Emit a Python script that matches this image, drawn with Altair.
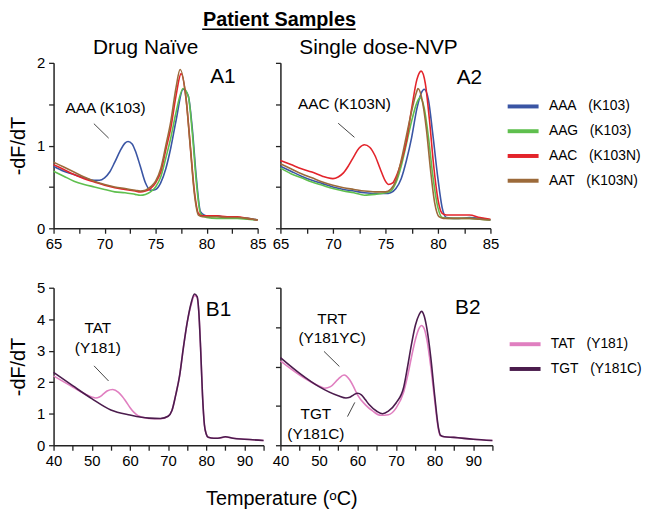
import altair as alt
import pandas as pd

FONT = "Liberation Sans"
SP = "\u00a0\u00a0\u00a0"

# ---------------- data: panel A1 (Drug Naive) ----------------
a_names = ["AAA" + SP + "(K103)", "AAG" + SP + "(K103)", "AAC" + SP + "(K103N)", "AAT" + SP + "(K103N)"]
a_colors = ["#3a55a4", "#5fbf4e", "#e3242b", "#9c6a3a"]

a1_aaa_t = [65, 66, 67, 68, 69, 69.5, 70, 70.5, 71, 71.5, 72, 72.3, 72.7, 73, 73.5, 74, 74.5, 75, 75.5, 76, 76.5, 77, 77.7, 78.2, 78.6, 79, 79.4, 80, 81, 82, 83, 84, 85]
a1_aaa_v = [0.75, 0.69, 0.65, 0.61, 0.58, 0.58, 0.61, 0.68, 0.8, 0.93, 1.03, 1.05, 1.02, 0.94, 0.75, 0.55, 0.46, 0.47, 0.55, 0.72, 0.98, 1.3, 1.68, 1.6, 1.2, 0.6, 0.2, 0.15, 0.15, 0.13, 0.13, 0.12, 0.10]
a1_aag_t = [65, 66, 67, 68, 69, 70, 71, 72, 73, 73.5, 74, 74.5, 75, 75.5, 76, 76.5, 77, 77.7, 78.2, 78.6, 79, 79.4, 80, 81, 82, 83, 84, 85]
a1_aag_v = [0.69, 0.63, 0.57, 0.53, 0.5, 0.47, 0.44, 0.43, 0.41, 0.4, 0.41, 0.44, 0.5, 0.62, 0.85, 1.1, 1.4, 1.69, 1.6, 1.15, 0.55, 0.18, 0.13, 0.12, 0.12, 0.12, 0.11, 0.10]
a1_aac_t = [65, 66, 67, 68, 69, 70, 71, 72, 73, 73.5, 74, 74.5, 75, 75.5, 76, 76.5, 77, 77.5, 78, 78.4, 78.8, 79.2, 79.6, 80, 81, 82, 83, 84, 85]
a1_aac_v = [0.77, 0.71, 0.65, 0.6, 0.56, 0.52, 0.49, 0.47, 0.45, 0.44, 0.45, 0.48, 0.55, 0.68, 0.95, 1.22, 1.6, 1.87, 1.55, 1.0, 0.45, 0.18, 0.15, 0.15, 0.15, 0.14, 0.14, 0.12, 0.10]
a1_aat_t = [65, 66, 67, 68, 69, 70, 71, 72, 73, 73.5, 74, 74.5, 75, 75.5, 76, 76.5, 77, 77.4, 78, 78.4, 78.8, 79.2, 79.6, 80, 81, 82, 83, 84, 85]
a1_aat_v = [0.80, 0.74, 0.68, 0.62, 0.57, 0.53, 0.5, 0.48, 0.46, 0.45, 0.46, 0.5, 0.57, 0.72, 1.0, 1.3, 1.7, 1.92, 1.55, 0.98, 0.42, 0.16, 0.14, 0.14, 0.14, 0.13, 0.13, 0.12, 0.10]

# ---------------- data: panel A2 (Single dose-NVP) ----------------
a2_aaa_t = [65, 66, 67, 68, 69, 70, 71, 72, 73, 74, 75, 75.5, 76, 76.5, 77, 77.5, 78, 78.4, 78.7, 79.1, 79.5, 80, 80.4, 80.8, 81.5, 82, 83, 84, 85]
a2_aaa_v = [0.75, 0.69, 0.63, 0.58, 0.54, 0.5, 0.47, 0.45, 0.43, 0.42, 0.42, 0.43, 0.48, 0.6, 0.82, 1.1, 1.45, 1.63, 1.68, 1.55, 1.15, 0.6, 0.25, 0.13, 0.12, 0.12, 0.13, 0.12, 0.10]
a2_aag_t = [65, 66, 67, 68, 69, 70, 71, 72, 73, 74, 75, 75.5, 76, 76.5, 77, 77.5, 78, 78.3, 78.7, 79.1, 79.5, 80, 80.4, 81, 82, 83, 84, 85]
a2_aag_v = [0.73, 0.66, 0.61, 0.56, 0.52, 0.48, 0.45, 0.43, 0.4, 0.41, 0.43, 0.45, 0.55, 0.75, 1.02, 1.3, 1.52, 1.58, 1.45, 1.1, 0.65, 0.25, 0.13, 0.12, 0.12, 0.12, 0.11, 0.10]
a2_aac_t = [65, 66, 67, 68, 69, 69.5, 70, 70.5, 71, 71.5, 72, 72.5, 73, 73.5, 74, 74.5, 75, 75.3, 75.7, 76, 76.5, 77, 77.5, 78, 78.4, 78.8, 79.2, 79.6, 80, 80.4, 80.8, 81, 82, 83, 84, 85]
a2_aac_v = [0.82, 0.77, 0.72, 0.68, 0.63, 0.61, 0.6, 0.62, 0.67, 0.76, 0.87, 0.97, 1.01, 0.98, 0.88, 0.72, 0.57, 0.53, 0.55, 0.62, 0.8, 1.05, 1.45, 1.8, 1.9, 1.75, 1.3, 0.75, 0.35, 0.18, 0.16, 0.16, 0.16, 0.16, 0.13, 0.11]
a2_aat_t = [65, 66, 67, 68, 69, 70, 71, 72, 73, 74, 75, 75.5, 76, 76.5, 77, 77.5, 78, 78.1, 78.5, 78.9, 79.3, 79.7, 80.1, 80.5, 81, 82, 83, 84, 85]
a2_aat_v = [0.78, 0.72, 0.66, 0.61, 0.56, 0.52, 0.49, 0.47, 0.45, 0.44, 0.44, 0.47, 0.58, 0.82, 1.12, 1.42, 1.66, 1.69, 1.55, 1.2, 0.7, 0.3, 0.14, 0.12, 0.12, 0.12, 0.12, 0.11, 0.10]

# ---------------- data: panels B1 / B2 ----------------
b_names = ["TAT" + SP + "(Y181)", "TGT" + SP + "(Y181C)"]
b_colors = ["#e07fc0", "#4b1c4d"]

b1_tat_t = [40, 45, 50, 51, 52, 53, 54, 55.5, 57, 58, 59, 60, 61, 62, 63, 65, 68, 70, 71, 72, 73, 74, 75, 76, 76.9, 77.6, 78, 78.5, 79, 79.5, 80, 80.5, 82, 83, 85, 87, 90, 95]
b1_tat_v = [2.2, 1.85, 1.53, 1.5, 1.53, 1.62, 1.72, 1.77, 1.68, 1.55, 1.38, 1.2, 1.05, 0.95, 0.9, 0.85, 0.84, 0.92, 1.1, 1.6, 2.2, 3.1, 3.9, 4.45, 4.75, 4.7, 4.3, 3.1, 1.6, 0.65, 0.35, 0.25, 0.22, 0.22, 0.26, 0.22, 0.19, 0.15]
b1_tgt_t = [40, 45, 50, 55, 60, 65, 68, 70, 71, 72, 73, 74, 75, 76, 76.9, 77.6, 78, 78.5, 79, 79.5, 80, 80.5, 82, 83, 85, 87, 90, 95]
b1_tgt_v = [2.31, 1.89, 1.48, 1.12, 0.96, 0.86, 0.85, 0.92, 1.1, 1.6, 2.2, 3.1, 3.9, 4.5, 4.8, 4.72, 4.3, 3.1, 1.6, 0.65, 0.35, 0.25, 0.22, 0.22, 0.27, 0.22, 0.19, 0.15]

b2_tat_t = [40, 45, 50, 51.5, 53, 55, 56.5, 58, 59, 60, 62, 64, 66, 68, 70, 72, 73, 74, 75, 76, 76.6, 77.3, 78, 79, 80, 81, 81.5, 82.5, 85, 90, 95]
b2_tat_v = [2.68, 2.23, 1.88, 1.81, 1.86, 2.1, 2.23, 2.07, 1.85, 1.6, 1.29, 1.08, 0.95, 0.97, 1.18, 1.7, 2.2, 2.8, 3.35, 3.72, 3.8, 3.7, 3.35, 2.5, 1.45, 0.5, 0.3, 0.27, 0.25, 0.19, 0.15]
b2_tgt_t = [40, 45, 50, 55, 57, 58, 59, 60, 61, 62, 63, 65, 66.5, 68, 70, 72, 73, 74, 75, 76, 76.6, 77.3, 78, 79, 80, 81, 81.5, 82.5, 85, 90, 95]
b2_tgt_v = [2.78, 2.28, 1.86, 1.57, 1.5, 1.52, 1.6, 1.65, 1.6, 1.45, 1.29, 1.08, 1.0, 1.08, 1.34, 1.85, 2.5, 3.2, 3.8, 4.15, 4.25, 4.1, 3.7, 2.8, 1.6, 0.55, 0.32, 0.27, 0.25, 0.19, 0.15]

# ---------------- annotations ----------------
a1_note = {"T": [70.1], "v": [1.45], "txt": ["AAA (K103)"]}
a1_lead = {"T": [68.95], "v": [1.265], "T2": [70.4], "v2": [1.09]}
a2_note = {"T": [71.1], "v": [1.5], "txt": ["AAC (K103N)"]}
a2_lead = {"T": [70.5], "v": [1.27], "T2": [72.05], "v2": [1.10]}
b1_note = {"T": [51.6], "v": [3.72], "txt": ["TAT\n(Y181)"]}
b1_lead = {"T": [50.6], "v": [2.52], "T2": [54.4], "v2": [2.04]}
b2_note = {"T": [53.4, 49.2], "v": [4.02, 0.99], "txt": ["TRT\n(Y181YC)", "TGT\n(Y181C)"]}
b2_lead = {"T": [51.3, 57.4], "v": [2.98, 0.91], "T2": [55.3, 59.3], "v2": [2.5, 1.36]}
panel_tags = {"A1": (81.6, 1.83), "A2": (83.0, 1.82), "B1": (83.2, 4.29), "B2": (88.6, 4.34)}

main_title = "Patient Samples"
col_titles = ["Drug Naïve", "Single dose-NVP"]
x_title = "Temperature (ᵒC)"
y_title = "-dF/dT"


def series(names, ts, vs):
    frames = [pd.DataFrame({"T": t, "v": v, "s": n}) for n, t, v in zip(names, ts, vs)]
    return pd.concat(frames, ignore_index=True)


AX = dict(grid=False, domainColor="#222", tickColor="#222", domainWidth=1.5, tickWidth=1.3,
          tickSize=5, labelFontSize=15, labelColor="black", labelFont=FONT, labelFlush=False,
          labelOverlap=False, titleFont=FONT, titleFontSize=20, titleFontWeight="normal",
          titleColor="black")


def panel(df, names, colors, xdom, xticks, xlabel_expr, ydom, yticks, show_ylabels,
          notes, leads, tag, width, height, legend=None, xtitle=None, xtitle_pos=None, extra=()):
    xaxis_kw = dict(AX, values=xticks, labelExpr=xlabel_expr, labelPadding=3)
    if xtitle:
        xaxis_kw.update(title=xtitle, titleX=xtitle_pos[0], titleY=xtitle_pos[1],
                        titleBaseline="alphabetic")
    else:
        xaxis_kw.update(title=None)
    yaxis_kw = dict(AX, values=yticks, labelPadding=4)
    if show_ylabels:
        yaxis_kw.update(title=y_title, labelExpr="datum.value % 1 == 0 ? format(datum.value, 'd') : ''",
                        titlePadding=8)
    else:
        yaxis_kw.update(title=None, labels=False)
    x = alt.X("T:Q", scale=alt.Scale(domain=xdom, nice=False, zero=False), axis=alt.Axis(**xaxis_kw))
    y = alt.Y("v:Q", scale=alt.Scale(domain=ydom, nice=False, zero=True), axis=alt.Axis(**yaxis_kw))
    color = alt.Color("s:N", scale=alt.Scale(domain=names, range=colors), legend=legend)
    lines = alt.Chart(df).mark_line(interpolate="monotone", strokeWidth=1.6).encode(
        x=x, y=y, color=color, order=alt.Order("T:Q"))
    lead = alt.Chart(pd.DataFrame(leads)).mark_rule(color="#444", strokeWidth=1).encode(
        x=x, y=y, x2="T2:Q", y2="v2:Q")
    note = alt.Chart(pd.DataFrame(notes)).mark_text(
        font=FONT, fontSize=15.5, color="black", lineBreak="\n", lineHeight=20,
        align="center", baseline="middle").encode(x=x, y=y, text="txt:N")
    tg = alt.Chart(pd.DataFrame({"T": [panel_tags[tag][0]], "v": [panel_tags[tag][1]], "txt": [tag]})).mark_text(
        font=FONT, fontSize=21, color="black", align="center", baseline="middle").encode(
        x=x, y=y, text="txt:N")
    layers = [lines, lead, note, tg] + list(extra)
    return alt.layer(*layers).properties(width=width, height=height)


one = pd.DataFrame({"k": [0]})


def label_text(txt, px, py, size, weight="normal"):
    return alt.Chart(one).mark_text(font=FONT, fontSize=size, fontWeight=weight, color="black",
                                    align="center", baseline="alphabetic").encode(
        x=alt.value(px), y=alt.value(py), text=alt.value(txt))


title_marks = [
    label_text(main_title, 228, -37, 20, "bold"),
    alt.Chart(one).mark_rule(color="black", strokeWidth=1.5).encode(
        x=alt.value(150), x2=alt.value(305), y=alt.value(-34)),
    label_text(col_titles[0], 93, -9, 21),
]

leg_common = dict(orient="none", title=None, symbolType="M-1.3,0H1.3", symbolSize=576,
                  symbolStrokeWidth=4, labelFontSize=14, labelFont=FONT, labelColor="black",
                  labelOffset=12, rowPadding=3, padding=0)

a_xticks = [65, 67.5, 70, 72.5, 75, 77.5, 80, 82.5, 85]
a_xexpr = "datum.value % 5 == 0 ? datum.label : ''"
b_xticks = list(range(40, 96, 5))
b_xexpr = "datum.value % 10 == 0 && datum.value < 95 ? datum.label : ''"

A1 = panel(series(a_names, [a1_aaa_t, a1_aag_t, a1_aac_t, a1_aat_t], [a1_aaa_v, a1_aag_v, a1_aac_v, a1_aat_v]),
           a_names, a_colors, [65, 85], a_xticks, a_xexpr, [0, 2], [0, 0.5, 1, 1.5, 2], True,
           a1_note, a1_lead, "A1", 206, 167, extra=title_marks)

A2 = panel(series(a_names, [a2_aaa_t, a2_aag_t, a2_aac_t, a2_aat_t], [a2_aaa_v, a2_aag_v, a2_aac_v, a2_aat_v]),
           a_names, a_colors, [65, 85], a_xticks, a_xexpr, [0, 2], [0, 0.5, 1, 1.5, 2], False,
           a2_note, a2_lead, "A2", 212, 167,
           legend=alt.Legend(legendX=231, legendY=30, **leg_common),
           extra=[label_text(col_titles[1], 99, -9, 21)])

B1 = panel(series(b_names, [b1_tat_t, b1_tgt_t], [b1_tat_v, b1_tgt_v]),
           b_names, b_colors, [40, 95], b_xticks, b_xexpr, [0, 5], [0, 1, 2, 3, 4, 5], True,
           b1_note, b1_lead, "B1", 212, 159, xtitle=x_title, xtitle_pos=(230, 60))

B2 = panel(series(b_names, [b2_tat_t, b2_tgt_t], [b2_tat_v, b2_tgt_v]),
           b_names, b_colors, [40, 95], b_xticks, b_xexpr, [0, 5], [0, 1.25, 2.5, 3.75, 5], False,
           b2_note, b2_lead, "B2", 214, 159,
           legend=alt.Legend(legendX=233, legendY=43, **leg_common))

chart = alt.concat(
    A1, A2, B1, B2, columns=2, spacing={"row": 60, "column": 17}, bounds="flush",
).resolve_scale(color="independent").properties(
    padding={"left": 0, "top": 0, "right": 0, "bottom": 0}
).configure(font=FONT).configure_view(stroke=None).configure_axis(labelOverlap=False)

chart.save("out.html", embed_options={"renderer": "svg", "actions": False})
